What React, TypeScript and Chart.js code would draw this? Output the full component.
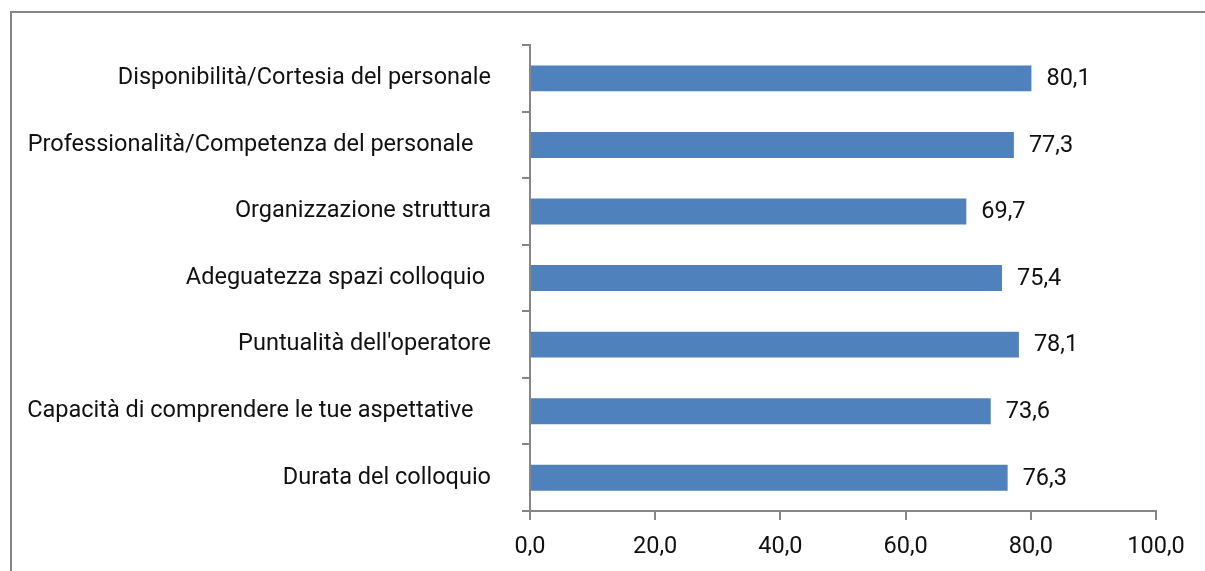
import React, { useEffect, useRef } from "react";
import { Chart, registerables } from "chart.js";

Chart.register(...registerables);

const categories = [
  "Disponibilità/Cortesia del personale",
  "Professionalità/Competenza del personale   ",
  "Organizzazione struttura",
  "Adeguatezza spazi colloquio ",
  "Puntualità dell'operatore",
  "Capacità di comprendere le tue aspettative   ",
  "Durata del colloquio",
];
const values = [80.1, 77.3, 69.7, 75.4, 78.1, 73.6, 76.3];
const xMin = 0;
const xMax = 100;
const xStep = 20;

const FONT = { family: "Roboto", size: 23.5 };
const AXIS = "#868686";

const fmt = (v: number) => v.toFixed(1).replace(".", ",");

const valueLabels = {
  id: "valueLabels",
  afterDatasetsDraw(chart: any) {
    const ctx = chart.ctx;
    const meta = chart.getDatasetMeta(0);
    ctx.save();
    ctx.font = `${FONT.size}px ${FONT.family}`;
    ctx.fillStyle = "#111";
    ctx.textAlign = "left";
    ctx.textBaseline = "middle";
    meta.data.forEach((bar: any, i: number) => {
      ctx.fillText(fmt(values[i]), bar.x + 15, bar.y + 1);
    });
    ctx.restore();
  },
};

export default function App() {
  const ref = useRef<HTMLCanvasElement | null>(null);
  useEffect(() => {
    if (!ref.current) return;
    const chart = new Chart(ref.current, {
      type: "bar",
      data: {
        labels: categories,
        datasets: [
          {
            data: values,
            backgroundColor: "#4F81BD",
            borderWidth: 0,
            barPercentage: 0.39,
            categoryPercentage: 1,
          },
        ],
      },
      options: {
        indexAxis: "y",
        animation: false,
        responsive: false,
        devicePixelRatio: 1,
        layout: { padding: { top: 43, right: 49, bottom: 0, left: 0 } },
        plugins: {
          legend: { display: false },
          tooltip: { enabled: false },
        },
        scales: {
          x: {
            min: xMin,
            max: xMax,
            ticks: {
              stepSize: xStep,
              color: "#111",
              font: FONT,
              padding: 13,
              maxRotation: 0,
              callback: (v: any) => fmt(Number(v)),
            },
            grid: {
              drawOnChartArea: false,
              drawTicks: true,
              tickLength: 9,
              color: AXIS,
              lineWidth: 2,
            },
            border: { color: AXIS, width: 2 },
            afterFit: (s: any) => {
              s.height = 60;
            },
          },
          y: {
            ticks: {
              color: "#111",
              font: FONT,
              padding: 31,
              autoSkip: false,
            },
            grid: {
              drawOnChartArea: false,
              drawTicks: true,
              tickLength: 8,
              color: AXIS,
              lineWidth: 2,
              offset: true,
            },
            border: { color: AXIS, width: 2 },
            afterFit: (s: any) => {
              s.width = 530;
            },
          },
        },
      },
      plugins: [valueLabels],
    });
    return () => chart.destroy();
  }, []);

  return (
    <div
      style={{
        position: "fixed",
        left: 0,
        top: 0,
        width: 1205,
        height: 571,
        overflow: "hidden",
        background: "#fff",
      }}
    >
      <div
        style={{
          position: "absolute",
          left: 10,
          top: 11,
          width: 1300,
          height: 700,
          border: "2px solid #868686",
          boxSizing: "border-box",
        }}
      />
      <canvas
        ref={ref}
        width={1205}
        height={571}
        style={{ position: "absolute", left: 0, top: 0, width: 1205, height: 571 }}
      />
    </div>
  );
}
